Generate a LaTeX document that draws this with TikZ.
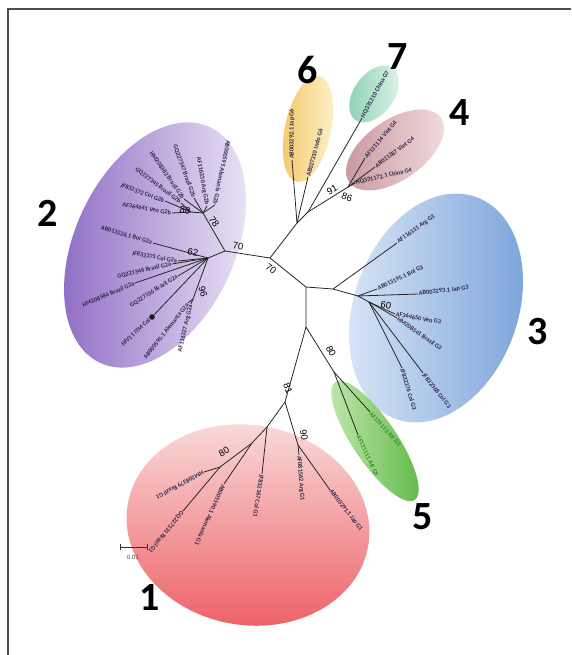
\documentclass[tikz,border=0pt]{standalone}
\usepackage{fontspec}
\setmainfont{Carlito}
\newfontfamily\arialf{Liberation Sans}
\definecolor{labc}{RGB}{45,38,70}
\definecolor{labg}{RGB}{50,140,40}
\definecolor{pur1}{RGB}{140,105,195}
\definecolor{pur2}{RGB}{238,232,247}
\definecolor{yel1}{RGB}{243,200,105}
\definecolor{yel2}{RGB}{252,242,205}
\definecolor{tea1}{RGB}{140,210,180}
\definecolor{tea2}{RGB}{220,242,232}
\definecolor{ros1}{RGB}{200,150,155}
\definecolor{ros2}{RGB}{242,222,224}
\definecolor{blu1}{RGB}{220,232,247}
\definecolor{blu2}{RGB}{120,162,218}
\definecolor{grn1}{RGB}{195,232,175}
\definecolor{grn2}{RGB}{95,185,70}
\definecolor{red1}{RGB}{250,222,222}
\definecolor{red2}{RGB}{238,100,105}
\begin{document}
\begin{tikzpicture}[x=1pt,y=-1pt,
  br/.style={draw=black!85, line width=0.8pt},
  leafL/.style={anchor=east, inner sep=0.8pt, font=\bfseries\fontsize{6.3}{7}\selectfont, text=labc},
  leafR/.style={anchor=west, inner sep=0.8pt, font=\bfseries\fontsize{6.3}{7}\selectfont, text=labc},
  boot/.style={font=\arialf\fontsize{9.5}{10}\selectfont, inner sep=0pt},
  grp/.style={font=\bfseries\fontsize{40}{40}\selectfont, inner sep=0pt}]
\useasboundingbox (0,0) rectangle (571,655);
\fill[white] (0,0) rectangle (571,655);
\draw[line width=1.2pt, black!70] (8,655) -- (8,9) -- (571,9);

% ---- coloured clusters
\path[rotate around={-25:(155,245)}, left color=pur1, right color=pur2] (155,245) ellipse [x radius=80pt, y radius=130pt];
\path[rotate around={-12:(308,129)}, left color=yel1, right color=yel2] (308,129) ellipse [x radius=23pt, y radius=54pt];
\path[rotate around={54:(374,94)}, left color=tea1, right color=tea2] (374,94) ellipse [x radius=32pt, y radius=20pt];
\path[rotate around={35:(395,150)}, left color=ros1, right color=ros2] (395,150) ellipse [x radius=56pt, y radius=30pt];
\path[rotate around={-20:(436,308)}, left color=blu1, right color=blu2] (436,308) ellipse [x radius=82pt, y radius=118pt];
\path[rotate around={-56:(375,441)}, left color=grn1, right color=grn2] (375,441) ellipse [x radius=71pt, y radius=22pt];
\path[rotate around={-10:(248,525)}, top color=red1, bottom color=red2] (248,525) ellipse [x radius=122pt, y radius=100pt];

% ---- internal nodes
\coordinate (A) at (225,251);
\coordinate (B) at (270,258);
\coordinate (C) at (297,223);
\coordinate (C2) at (308,212);
\coordinate (C4) at (348,187);
\coordinate (D) at (306,287);
\coordinate (E) at (333,289);
\coordinate (E2) at (358,296);
\coordinate (N60) at (369,302);
\coordinate (F) at (306,327);
\coordinate (N5) at (334,372);
\coordinate (H) at (285,402);
\coordinate (H3) at (267,427);
\coordinate (H2) at (252,443);
\coordinate (N80) at (220,467);
\coordinate (N90) at (298,445);
\coordinate (N2b) at (203,213);
\coordinate (N88) at (191,212);
\coordinate (N62) at (208,258);
\coordinate (N96) at (193,299);

\draw[br] (A) -- (B) -- (C);
\draw[br] (B) -- (D) -- (E) -- (E2) -- (N60);
\draw[br] (D) -- (F) -- (N5);
\draw[br] (F) -- (H) -- (H3) -- (H2) -- (N80);
\draw[br] (H) -- (N90);
\draw[br] (C) -- (C2) -- (C4);
\draw[br] (A) -- (N2b) -- (N88);
\draw[br] (A) -- (N62) -- (N96);

% ---- group 2b
\node[leafL, rotate=-10] (b1) at (172,213) {AF364641 Ven G2b};
\node[leafL, rotate=-20] (b2) at (165,201) {JF832372 Col G2b};
\node[leafL, rotate=-37] (b3) at (181,203) {GQ227345 Brazil G2b};
\node[leafL, rotate=-55] (b4) at (184,199) {HM208382 Brazil G2b};
\node[leafL, rotate=-70] (b5) at (194,198) {GQ227347 Brazil G2b};
\node[leafL, rotate=-80] (b6) at (207,206) {AF116330 Arg G2b};
\node[leafL, rotate=-102] (b7) at (215,205) {AB000595 Alemania G2b};
\draw[br] (N88) -- (b1.east);
\draw[br] (N88) -- (b2.east);
\draw[br] (N88) -- (b3.east);
\draw[br] (N2b) -- (b4.east);
\draw[br] (N2b) -- (b5.east);
\draw[br] (N2b) -- (b6.east);
\draw[br] (N2b) -- (b7.east);

% ---- group 2a
\node[leafL, rotate=-17] (a1) at (153,243) {AB013226.1 Bol G2a};
\node[leafL, rotate=-10] (a2) at (178,261) {JF832375 Col G2a};
\node[leafL, rotate=13] (a3) at (172,264) {GQ227346 Brazil G2a};
\node[leafL, rotate=23] (a4) at (135,283) {HM208584 Brazil G2a};
\node[leafL, rotate=32] (a5) at (178,276) {GQ227336 Brazil G2a};
\coordinate (hiv) at (152,317);
\node[leafL, rotate=43, inner sep=3.5pt] (a6) at (hiv) {HIV11 ITM Col};
\node[leafL, rotate=52] (a7) at (188,303) {AB000595.1 Alemania G2a};
\node[leafL, rotate=77] (a8) at (191,304) {AF116327 Arg G2a};
\draw[br] (N62) -- (a1.east);
\draw[br] (N62) -- (a2.east);
\draw[br] (N62) -- (a3.east);
\draw[br] (N62) -- (a4.east);
\draw[br] (N62) -- (a5.east);
\draw[br] (N62) -- (hiv);
\fill[black!90] (hiv) circle (2.8pt);
\draw[br] (N96) -- (a7.east);
\draw[br] (N96) -- (a8.east);

% ---- groups 6, 7, 4
\node[leafR, rotate=90] (g61) at (292,160) {AB003292.1 Jap G6};
\node[leafR, rotate=75] (g62) at (308,177) {AB027310 Indo G6};
\node[leafR, rotate=61] (g7) at (362,118) {HQ331210 China G7};
\node[leafR, rotate=50] (g41) at (365,158) {AF131114 Viet G4};
\node[leafR, rotate=37] (g42) at (375,167) {AB021287 Viet G4};
\node[leafR, rotate=13] (g43) at (355,183) {HQ331172.1 China G4};
\draw[br] (C) -- (g61.west);
\draw[br] (C) -- (g62.west);
\draw[br] (C2) -- (g7.west);
\draw[br] (C4) -- (g41.west);
\draw[br] (C4) -- (g42.west);
\draw[br] (C4) -- (g43.west);

% ---- group 3
\node[leafR, rotate=36] (g31) at (397,243) {AF116331 Arg G3};
\node[leafR, rotate=26] (g32) at (377,289) {AB013195.1 Bol G3};
\node[leafR, rotate=7] (g33) at (418,294) {AB003293.1 Jap G3};
\node[leafR, rotate=-10] (g34) at (395,314) {AF364650 Ven G3};
\node[leafR, rotate=-35] (g35) at (397,318) {HM208541 Brazil G3};
\node[leafR, rotate=-52] (g36) at (423,373) {JF832368 Col G3};
\node[leafR, rotate=-73] (g37) at (402,368) {JF832376 Col G3};
\draw[br] (E) -- (g31.west);
\draw[br] (E2) -- (g32.west);
\draw[br] (E2) -- (g33.west);
\draw[br] (N60) -- (g34.west);
\draw[br] (N60) -- (g35.west);
\draw[br] (N60) -- (g36.west);
\draw[br] (N60) -- (g37.west);

% ---- group 5
\node[leafR, rotate=-48, text=labg] (g51) at (370,412) {AF131113 Afr G5};
\node[leafR, rotate=-65, text=labg] (g52) at (358,435) {AF131111 Afr G5};
\draw[br] (N5) -- (g51.west);
\draw[br] (N5) -- (g52.west);

% ---- group 1
\node[leafR, rotate=-52] (g11) at (330,490) {AB003291.1 Jap G1};
\node[leafR, rotate=-86] (g12) at (299,455) {AF081562 Arg G1};
\node[leafR, rotate=-99] (g13) at (262,474) {JF832367 Col G1};
\node[leafR, rotate=-114] (g14) at (224,484) {AB005590.1 Alemania G1};
\node[leafR, rotate=-129] (g15) at (183,511) {GQ227331 Brazil G1};
\node[leafR, rotate=-151] (g16) at (204,472) {HM208379 Brazil G1};
\draw[br] (N90) -- (g11.west);
\draw[br] (N90) -- (g12.west);
\draw[br] (H3) -- (g13.west);
\draw[br] (H2) -- (g14.west);
\draw[br] (N80) -- (g15.west);
\draw[br] (N80) -- (g16.west);

% ---- bootstrap values
\node[boot, rotate=-8] (s1) at (238,246) {70};
\node[boot, rotate=-35] (s2) at (271,269) {70};
\node[boot, rotate=-55] (s3) at (214,222) {78};
\node[boot, rotate=-10] (s4) at (193,252) {62};
\node[boot, rotate=-10] (s5) at (185,210) {88};
\node[boot, rotate=-75] (s6) at (203,292) {96};
\node[boot, rotate=30] (s7) at (332,190) {91};
\node[boot, rotate=-20] (s8) at (347,197) {86};
\node[boot, rotate=-10] (s9) at (386,305) {60};
\node[boot, rotate=-60] (s10) at (331,351) {80};
\node[boot, rotate=-70] (s11) at (288,388) {81};
\node[boot, rotate=-80] (s12) at (304,435) {90};
\node[boot, rotate=30] (s13) at (224,452) {80};

% ---- group numbers
\node[grp] (n1) at (150,598) {1};
\node[grp] (n2) at (48,213) {2};
\node[grp] (n3) at (538,332) {3};
\node[grp] (n4) at (460,113) {4};
\node[grp] (n5) at (423,517) {5};
\node[grp] (n6) at (308,70) {6};
\node[grp] (n7) at (398,57) {7};

% ---- scale bar
\coordinate (sb1) at (120,547);
\coordinate (sb2) at (147,547);
\draw[line width=0.8pt, black!80] (sb1) -- (sb2);
\draw[line width=0.8pt, black!80] ([yshift=3pt]sb1) -- ([yshift=-3pt]sb1);
\draw[line width=0.8pt, black!80] ([yshift=3pt]sb2) -- ([yshift=-3pt]sb2);
\node[font=\arialf\fontsize{6}{7}\selectfont, text=black!70, inner sep=0pt] (sbl) at (133,557) {0.01};
\end{tikzpicture}
\end{document}
